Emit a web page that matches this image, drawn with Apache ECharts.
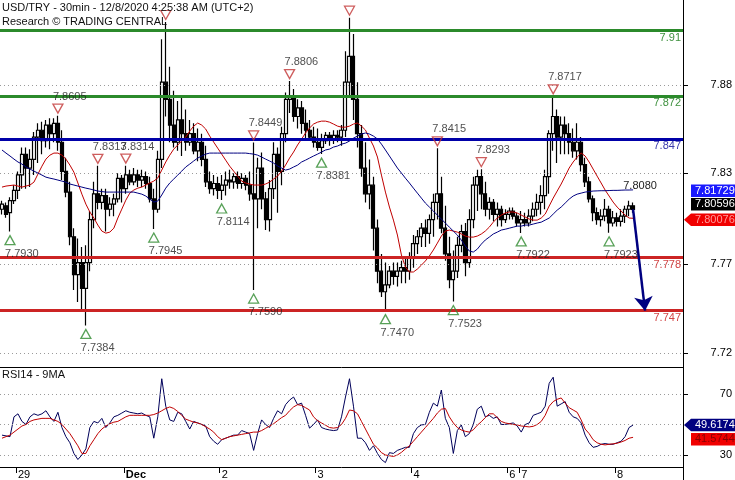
<!DOCTYPE html>
<html><head><meta charset="utf-8">
<script src="https://cdn.jsdelivr.net/npm/echarts@6/dist/echarts.min.js"></script>
<style>html,body{margin:0;padding:0;background:#fff}#c{width:735px;height:480px}</style>
</head><body><div id="c"></div>
<script>
const FONT = "'Liberation Sans', Arial, sans-serif";

// ---- data (30min USD/TRY, one entry per hourly slot) ----
const SLOT_COUNT = 171;
const dayLabels = ['29','Dec','2','3','4','6','7','8'];
const dayStarts = [4,31,55,79,103,127,130,154];

const opens = [7.806,7.808,7.804,7.811,7.817,7.826,7.838,7.830,7.835,7.848,
7.852,7.846,7.855,7.850,7.856,7.845,7.828,7.816,7.790,7.768,
7.775,7.760,7.775,7.800,7.815,7.810,7.814,7.806,7.809,7.812,
7.824,7.818,7.826,7.822,7.826,7.823,7.825,7.821,7.812,7.806,
7.835,7.880,7.870,7.855,7.845,7.858,7.850,7.845,7.850,7.840,
7.845,7.835,7.822,7.818,7.821,7.817,7.820,7.823,7.822,7.825,
7.821,7.824,7.820,7.815,7.812,7.830,7.812,7.800,7.818,7.838,
7.828,7.850,7.870,7.872,7.860,7.865,7.856,7.852,7.848,7.845,
7.842,7.846,7.849,7.847,7.849,7.848,7.852,7.880,7.895,7.870,
7.850,7.830,7.815,7.820,7.795,7.770,7.758,7.762,7.770,7.767,
7.770,7.772,7.770,7.778,7.786,7.790,7.795,7.792,7.800,7.810,
7.815,7.795,7.780,7.765,7.770,7.785,7.793,7.775,7.800,7.820,
7.825,7.815,7.806,7.810,7.803,7.806,7.800,7.803,7.805,7.802,
7.798,7.800,7.798,7.802,7.806,7.810,7.814,7.825,7.850,7.860,
7.848,7.855,7.850,7.845,7.840,7.845,7.832,7.822,7.812,7.804,
7.800,7.802,7.806,7.798,7.801,7.799,7.802,7.806,7.808];
const closes = [7.809,7.803,7.811,7.817,7.826,7.838,7.830,7.835,7.848,7.852,
7.846,7.855,7.850,7.856,7.845,7.828,7.816,7.790,7.768,7.775,
7.760,7.775,7.800,7.815,7.810,7.814,7.806,7.809,7.812,7.824,
7.818,7.826,7.822,7.826,7.823,7.825,7.821,7.812,7.806,7.835,
7.880,7.870,7.855,7.845,7.858,7.850,7.845,7.850,7.840,7.845,
7.835,7.822,7.818,7.821,7.817,7.820,7.823,7.822,7.825,7.821,
7.824,7.820,7.815,7.812,7.830,7.812,7.800,7.818,7.838,7.828,
7.850,7.870,7.872,7.860,7.865,7.856,7.852,7.848,7.845,7.842,
7.846,7.849,7.847,7.849,7.848,7.852,7.880,7.895,7.870,7.850,
7.830,7.815,7.820,7.795,7.770,7.758,7.762,7.770,7.767,7.770,
7.772,7.770,7.778,7.786,7.790,7.795,7.792,7.800,7.810,7.815,
7.795,7.780,7.765,7.770,7.785,7.793,7.775,7.800,7.820,7.825,
7.815,7.806,7.810,7.803,7.806,7.800,7.803,7.805,7.802,7.798,
7.800,7.798,7.802,7.806,7.810,7.814,7.825,7.850,7.860,7.848,
7.855,7.850,7.845,7.840,7.845,7.832,7.822,7.812,7.804,7.800,
7.802,7.806,7.798,7.801,7.799,7.802,7.806,7.808,7.80596];
const lows = [7.803,7.801,7.7930,7.809,7.812,7.818,7.818,7.819,7.826,7.833,
7.838,7.842,7.841,7.845,7.840,7.823,7.813,7.785,7.759,7.752,
7.748,7.7384,7.770,7.795,7.806,7.806,7.793,7.802,7.802,7.810,
7.810,7.815,7.820,7.820,7.819,7.819,7.818,7.810,7.7945,7.804,
7.830,7.860,7.845,7.842,7.840,7.837,7.840,7.843,7.838,7.834,
7.831,7.819,7.815,7.814,7.812,7.8114,7.814,7.818,7.818,7.818,
7.818,7.817,7.811,7.7590,7.795,7.806,7.794,7.793,7.812,7.804,
7.820,7.845,7.862,7.857,7.853,7.850,7.846,7.846,7.842,7.840,
7.8381,7.844,7.843,7.844,7.845,7.843,7.848,7.872,7.858,7.842,
7.825,7.810,7.806,7.782,7.763,7.755,7.7470,7.760,7.762,7.761,
7.763,7.763,7.765,7.772,7.780,7.784,7.784,7.786,7.790,7.800,
7.792,7.776,7.760,7.7523,7.766,7.781,7.767,7.772,7.795,7.805,
7.806,7.802,7.800,7.799,7.796,7.796,7.798,7.800,7.800,7.796,
7.7922,7.796,7.796,7.799,7.802,7.803,7.806,7.815,7.840,7.833,
7.838,7.838,7.838,7.836,7.835,7.828,7.819,7.810,7.799,7.797,
7.796,7.799,7.7923,7.796,7.796,7.796,7.798,7.802,7.804];
const highs = [7.811,7.810,7.813,7.820,7.828,7.842,7.842,7.841,7.851,7.856,
7.857,7.858,7.859,7.859,7.8605,7.852,7.836,7.822,7.795,7.789,
7.784,7.785,7.805,7.822,7.8313,7.818,7.818,7.813,7.815,7.827,
7.826,7.8314,7.829,7.830,7.829,7.829,7.828,7.825,7.818,7.840,
7.905,7.9150,7.889,7.875,7.869,7.871,7.864,7.858,7.856,7.853,
7.850,7.843,7.828,7.826,7.825,7.826,7.828,7.829,7.827,7.828,
7.827,7.826,7.828,7.8449,7.836,7.839,7.816,7.823,7.845,7.842,
7.854,7.874,7.8806,7.876,7.870,7.869,7.864,7.858,7.854,7.853,
7.850,7.851,7.851,7.852,7.852,7.855,7.898,7.9175,7.908,7.880,
7.855,7.845,7.835,7.825,7.800,7.780,7.775,7.773,7.775,7.775,
7.776,7.778,7.781,7.791,7.794,7.798,7.800,7.803,7.815,7.8415,
7.825,7.808,7.790,7.782,7.790,7.797,7.798,7.806,7.825,7.829,
7.8293,7.822,7.813,7.812,7.810,7.808,7.806,7.807,7.807,7.804,
7.805,7.804,7.806,7.810,7.815,7.820,7.829,7.852,7.8717,7.864,
7.860,7.860,7.856,7.853,7.856,7.848,7.836,7.825,7.814,7.807,
7.806,7.812,7.808,7.805,7.804,7.806,7.808,7.811,7.810];

const maFast = [7.8189,7.8195,7.8198,7.8201,7.8195,7.8189,7.8195,7.8201,7.8218,7.8265,
7.8311,7.8352,7.8375,7.8387,7.8387,7.8375,7.8352,7.8317,7.8276,7.8213,
7.8148,7.8090,7.8044,7.8009,7.7968,7.7933,7.7921,7.7927,7.7950,7.8009,
7.8061,7.8113,7.8154,7.8172,7.8183,7.8189,7.8201,7.8213,7.8224,7.8242,
7.8288,7.8335,7.8375,7.8410,7.8434,7.8457,7.8480,7.8515,7.8544,7.8562,
7.8550,7.8527,7.8486,7.8451,7.8416,7.8381,7.8346,7.8311,7.8282,7.8253,
7.8224,7.8213,7.8207,7.8201,7.8201,7.8201,7.8207,7.8218,7.8236,7.8253,
7.8282,7.8317,7.8358,7.8393,7.8434,7.8468,7.8504,7.8533,7.8556,7.8567,
7.8573,7.8573,7.8567,7.8556,7.8544,7.8538,7.8538,7.8544,7.8556,7.8562,
7.8544,7.8521,7.8474,7.8428,7.8364,7.8259,7.8160,7.8073,7.7997,7.7910,
7.7794,7.7724,7.7695,7.7695,7.7712,7.7735,7.7759,7.7788,7.7823,7.7863,
7.7904,7.7933,7.7939,7.7933,7.7927,7.7916,7.7904,7.7898,7.7898,7.7904,
7.7916,7.7933,7.7956,7.7985,7.8009,7.8026,7.8038,7.8044,7.8044,7.8038,
7.8026,7.8015,7.8003,7.7997,7.7997,7.8009,7.8032,7.8079,7.8125,7.8166,
7.8207,7.8253,7.8300,7.8335,7.8364,7.8387,7.8370,7.8335,7.8294,7.8253,
7.8213,7.8172,7.8137,7.8102,7.8073,7.8050,7.8026,7.8009,7.80076];
const maSlow = [7.8405,7.8387,7.8370,7.8352,7.8335,7.8323,7.8306,7.8294,7.8282,7.8271,
7.8259,7.8247,7.8241,7.8236,7.8230,7.8224,7.8218,7.8207,7.8201,7.8195,
7.8189,7.8183,7.8178,7.8172,7.8166,7.8163,7.8160,7.8160,7.8160,7.8160,
7.8160,7.8160,7.8160,7.8160,7.8154,7.8148,7.8137,7.8119,7.8102,7.8108,
7.8143,7.8183,7.8213,7.8236,7.8259,7.8282,7.8306,7.8323,7.8341,7.8358,
7.8370,7.8381,7.8387,7.8387,7.8387,7.8387,7.8387,7.8387,7.8387,7.8387,
7.8387,7.8387,7.8384,7.8381,7.8375,7.8364,7.8352,7.8341,7.8329,7.8312,
7.8300,7.8288,7.8294,7.8306,7.8317,7.8335,7.8346,7.8358,7.8370,7.8381,
7.8393,7.8405,7.8410,7.8422,7.8428,7.8439,7.8445,7.8457,7.8474,7.8486,
7.8498,7.8504,7.8498,7.8486,7.8469,7.8439,7.8405,7.8370,7.8335,7.8300,
7.8271,7.8241,7.8213,7.8183,7.8154,7.8125,7.8096,7.8073,7.8050,7.8026,
7.8003,7.7980,7.7956,7.7933,7.7910,7.7881,7.7846,7.7817,7.7811,7.7828,
7.7857,7.7881,7.7898,7.7916,7.7927,7.7939,7.7944,7.7950,7.7956,7.7962,
7.7962,7.7968,7.7968,7.7974,7.7980,7.7985,7.7997,7.8009,7.8032,7.8055,
7.8073,7.8096,7.8119,7.8137,7.8148,7.8154,7.8160,7.8163,7.8166,7.8167,
7.8168,7.8168,7.8169,7.8170,7.8170,7.8171,7.8172,7.8172,7.81729];

const rsi14 = [43,42.5,42,55,57,52,50,55,57,56,
57,59,55,52,58,48,42,38,31,27,
30,34,48,52,51,54,48,51,55,56,
57.5,59,58,57.5,57,57.5,56,55,41,55,
80,62,53,52,58,57,52,47,52,51,
50,49,42,39,37,40,41,42,43,43,
46,45,44,33,44,53,50,48,54,59,
57,63,66,68,63,64,56,47.6,50,53,
48,47,46.4,46,46.4,55,68,80,62,41,
41,38,33,36,31,27,25,31.5,31,33,
34,35,35,44,48,49.7,50,58,64,62,
72.6,54,48,31,46,49.7,42,44,50,60,
62,55,56,54,55,50,50,50.5,51,49,
45,50,51,56,57,58,62,77,81,62,
63.5,65,58,55,54,51,43,38,35,35.6,
37,37.5,37,37,38,39,42,48,49.6174];
const rsiMA9 = [41,42,43,45,47,49,50,52,53,53.5,
54,54,54,53,52,50,47,44,40,36,
31,31,36,40,44,47,49,50.5,51.5,52,
53.5,55,56,56,56,56,56,56,56.5,57.5,
59,60.5,61.5,60.5,58.5,56,53.5,52.5,51.5,51,
50,48.5,47,45,42,40,41,42,42.5,43,
43.5,44,44.5,45,45,46,47.5,49,50.5,52.5,
54.5,56,59,61.5,63,62.5,61,59.5,55,52.5,
51,49.5,48,47.6,48,50,54,59.5,59,57,
52,47,42,37,34.6,31.5,30,29.5,29,30,
31.7,34,36,39,42,45,48,51,54,57.5,
60,60.5,55,51,48,46.4,45.5,45,46.5,49.5,
51.8,54.5,57,57,54.5,52,51,50.5,50,49.7,
49,48.7,48.4,48.8,50,52,56,62,65,66.5,
67.4,64,61,59.5,58,53,47,44,40,38,
37,36.6,37,37.3,37.7,38.5,39.5,41,41.5744];

const swingHighSlots = [14,24,31,41,63,72,87,109,120,138];
const swingLowSlots = [2,21,38,55,63,80,96,113,130,152];
const resistanceLevels = [7.91, 7.872];
const pivotLevels = [7.847];
const supportLevels = [7.778, 7.747];
const priceTicks = [7.8783, 7.8269, 7.7741, 7.7221];
const rsiTicks = [30, 70];
const rsiGridLines = [30, 50, 70];
const lastSwingText = 7.8080;
const lastSlowMA = 7.81729, lastClose = 7.80596, lastFastMA = 7.80076;
const lastRsi = 49.6174, lastRsiMA = 41.5744;

// ---- build ----
const categories = Array.from({length: SLOT_COUNT}, (_, i) => String(i));
const candles = opens.map((o, i) => [o, closes[i], lows[i], highs[i]]);
const lastIdx = closes.length - 1;
const isDayStart = (i) => dayStarts.indexOf(i) >= 0;
const txt = (size, color, extra) => Object.assign({fontSize: size, color: color, fontFamily: FONT}, extra || {});

const levelItems = [];
const addLevels = (arr, lineColor, labelColor) => arr.forEach(v => levelItems.push({
  yAxis: v, name: String(v), lineStyle: {color: lineColor, width: 3, type: 'solid'}, label: {color: labelColor}}));
addLevels(resistanceLevels, '#2b8a2b', '#3f913f');
addLevels(pivotLevels, '#0000a8', '#3b3bab');
addLevels(supportLevels, '#cc2424', '#d24545');
levelItems.push([
  {coord: [lastIdx, closes[lastIdx]], symbol: 'none'},
  {coord: [lastIdx + 3, supportLevels[1]], symbol: 'arrow', symbolSize: 14,
   lineStyle: {color: '#000080', width: 2.5, type: 'solid', curveness: 0.04}, label: {show: false}}
]);

const TOP_VISIBLE = 7.912; // labels of swing highs above this fall outside the canvas
const option = {
  animation: false,
  backgroundColor: '#fff',
  title: [
    {text: 'USD/TRY - 30min - 12/8/2020 4:25:38 AM (UTC+2)', left: 2, top: 1, padding: 0, itemGap: 1,
     textStyle: txt(11, '#111', {fontWeight: 'normal', lineHeight: 13}),
     subtext: 'Research © TRADING CENTRAL', subtextStyle: txt(11, '#111', {lineHeight: 13}), z: 10},
    {text: 'RSI14 - 9MA', left: 2, top: 369, padding: 0, textStyle: txt(11, '#111', {fontWeight: 'normal'})}
  ],
  grid: [
    {left: 0, right: 52, top: 0, height: 367},
    {left: 0, right: 52, top: 367, height: 100}
  ],
  xAxis: [
    {type: 'category', gridIndex: 0, data: categories, boundaryGap: true,
     axisLine: {show: true, lineStyle: {color: '#000', width: 1}}, axisTick: {show: false}, axisLabel: {show: false}, splitLine: {show: false}},
    {type: 'category', gridIndex: 1, data: categories, boundaryGap: true,
     axisLine: {show: true, lineStyle: {color: '#000', width: 1}},
     axisTick: {show: true, interval: (i) => isDayStart(i), length: 6, lineStyle: {color: '#000'}},
     axisLabel: {show: true, interval: (i) => isDayStart(i), align: 'left', margin: 2, fontSize: 11, color: '#000', fontFamily: FONT,
       formatter: (v, i) => { const k = dayStarts.indexOf(i); if (k < 0) return ''; return dayLabels[k] === 'Dec' ? '{b|Dec}' : dayLabels[k]; },
       rich: {b: {fontWeight: 'bold', fontSize: 11, fontFamily: FONT, color: '#000'}}},
     splitLine: {show: false}}
  ],
  yAxis: [
    {type: 'value', gridIndex: 0, position: 'right', min: 7.7142, max: 7.9278, scale: true,
     axisLine: {show: true, lineStyle: {color: '#000'}},
     axisTick: {show: true, length: 5, customValues: priceTicks, lineStyle: {color: '#000'}},
     axisLabel: {show: true, customValues: priceTicks, formatter: v => v.toFixed(2), align: 'right', margin: 49, fontSize: 11, color: '#000', fontFamily: FONT},
     splitLine: {show: false}},
    {type: 'value', gridIndex: 1, position: 'right', min: 22.1, max: 87.7,
     axisLine: {show: true, lineStyle: {color: '#000'}},
     axisTick: {show: true, length: 5, customValues: rsiTicks, lineStyle: {color: '#000'}},
     axisLabel: {show: true, customValues: rsiTicks, formatter: v => String(Math.round(v)), align: 'right', margin: 49, fontSize: 11, color: '#000', fontFamily: FONT},
     splitLine: {show: false}}
  ],
  series: [
    {type: 'line', name: 'grid', xAxisIndex: 0, yAxisIndex: 0, data: closes, showSymbol: false, silent: true, z: 1,
     lineStyle: {opacity: 0}, itemStyle: {opacity: 0},
     markLine: {silent: true, symbol: 'none', precision: 5, label: {show: false}, animation: false,
       lineStyle: {type: [1, 3], color: '#9a9a9a', width: 1}, data: priceTicks.map(v => ({yAxis: v}))}},
    {type: 'candlestick', name: 'USD/TRY', xAxisIndex: 0, yAxisIndex: 0, data: candles, barWidth: 3.5, z: 2,
     itemStyle: {color: '#ffffff', color0: '#000000', borderColor: '#000000', borderColor0: '#000000', borderWidth: 1.2},
     markLine: {silent: true, symbol: 'none', animation: false, precision: 5,
       label: {show: true, position: 'insideEndBottom', formatter: '{b}', fontSize: 11, fontFamily: FONT, distance: [2, 2]},
       data: levelItems},
     markPoint: {silent: true, animation: false,
       data: [{coord: [lastIdx, lastSwingText], value: lastSwingText, symbol: 'circle', symbolSize: 1, itemStyle: {color: 'rgba(0,0,0,0)'},
         label: {show: true, formatter: lastSwingText.toFixed(4), position: 'inside', offset: [7, -20], fontSize: 11, fontFamily: FONT, color: '#222'}}]}},
    {type: 'line', name: 'MA fast', xAxisIndex: 0, yAxisIndex: 0, data: maFast, showSymbol: false, z: 3,
     lineStyle: {color: '#c00000', width: 1}},
    {type: 'line', name: 'MA slow', xAxisIndex: 0, yAxisIndex: 0, data: maSlow, showSymbol: false, z: 3,
     lineStyle: {color: '#000080', width: 1}},
    {type: 'scatter', name: 'swing high', xAxisIndex: 0, yAxisIndex: 0, z: 5,
     data: swingHighSlots.map(i => ({value: [i, highs[i]], label: {show: highs[i] < TOP_VISIBLE}})),
     symbol: 'path://M0,0L10,0L5,9Z', symbolSize: [10, 9], symbolOffset: [0, -7],
     itemStyle: {color: 'rgba(255,255,255,0)', borderColor: '#c23434', borderWidth: 1.3},
     label: {show: true, position: 'top', distance: 1.5, align: 'left', offset: [-5, 0], formatter: p => p.value[1].toFixed(4), fontSize: 11, fontFamily: FONT, color: '#222'}},
    {type: 'scatter', name: 'swing low', xAxisIndex: 0, yAxisIndex: 0, z: 5,
     data: swingLowSlots.map(i => [i, lows[i]]),
     symbol: 'path://M5,0L10,9L0,9Z', symbolSize: [10, 9], symbolOffset: [0, 8.5],
     itemStyle: {color: 'rgba(255,255,255,0)', borderColor: '#2e8a2e', borderWidth: 1.3},
     label: {show: true, position: 'bottom', distance: 3, align: 'left', offset: [-5, 0], formatter: p => p.value[1].toFixed(4), fontSize: 11, fontFamily: FONT, color: '#222'}},
    {type: 'line', name: 'rsi grid', xAxisIndex: 1, yAxisIndex: 1, data: rsi14, showSymbol: false, silent: true, z: 1,
     lineStyle: {opacity: 0}, itemStyle: {opacity: 0},
     markLine: {silent: true, symbol: 'none', label: {show: false}, animation: false,
       lineStyle: {type: [1, 3], color: '#9a9a9a', width: 1}, data: rsiGridLines.map(v => ({yAxis: v}))}},
    {type: 'line', name: 'RSI14', xAxisIndex: 1, yAxisIndex: 1, data: rsi14, showSymbol: false, z: 3,
     lineStyle: {color: '#00005a', width: 1}},
    {type: 'line', name: '9MA', xAxisIndex: 1, yAxisIndex: 1, data: rsiMA9, showSymbol: false, z: 3,
     lineStyle: {color: '#c00000', width: 1}}
  ]
};

const chart = echarts.init(document.getElementById('c'), null, {renderer: 'canvas'});
chart.setOption(option);

function tagEls(yc, text, bg, fg, pointed) {
  const h = 12.5, xl = 691, xr = 735;
  const els = [];
  if (pointed) {
    els.push({type: 'polygon', z: 20, shape: {points: [[684, yc], [691, yc - h / 2], [xr, yc - h / 2], [xr, yc + h / 2], [691, yc + h / 2]]}, style: {fill: bg}});
  } else {
    els.push({type: 'rect', z: 20, shape: {x: xl, y: yc - h / 2, width: xr - xl, height: h}, style: {fill: bg}});
  }
  els.push({type: 'text', z: 21, x: 695, y: yc, style: {text: text, fill: fg, font: '11px ' + FONT, align: 'left', verticalAlign: 'middle'}});
  return els;
}
const yMain = v => chart.convertToPixel({yAxisIndex: 0}, v);
const yRsi = v => chart.convertToPixel({yAxisIndex: 1}, v);
const redY = yMain(lastFastMA) + 1.5;
const graphics = [].concat(
  tagEls(yMain(lastSlowMA) + 1, lastSlowMA.toFixed(5), '#1a1aff', '#ffffff', false),
  tagEls(redY - 15.5, lastClose.toFixed(5), '#000000', '#ffffff', false),
  tagEls(redY, lastFastMA.toFixed(5), '#f00000', '#ff9a9a', true),
  tagEls(yRsi(lastRsi), lastRsi.toFixed(4), '#000080', '#ffffff', true),
  tagEls(yRsi(lastRsiMA) + 2, lastRsiMA.toFixed(4), '#f00000', '#8a0000', false),
  [{type: 'line', z: 20, shape: {x1: 683.5, y1: 467, x2: 683.5, y2: 480}, style: {stroke: '#000', lineWidth: 1}}]
);
chart.setOption({graphic: graphics});
</script>
</body></html>
